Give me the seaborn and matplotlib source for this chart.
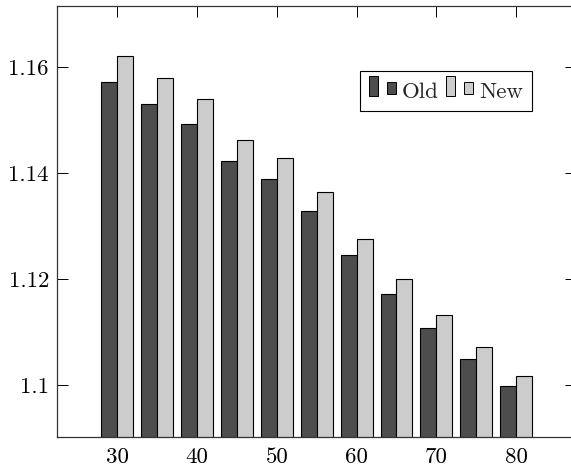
"""Grouped bar chart: Old vs New, drawn with seaborn"""
import matplotlib
matplotlib.use("Agg")
import matplotlib.pyplot as plt
from matplotlib.patches import Rectangle
import seaborn as sns
import pandas as pd

# data
x_values = [30, 35, 40, 45, 50, 55, 60, 65, 70, 75, 80]
old_values = [1.1571, 1.1531, 1.1493, 1.1422, 1.1389, 1.1328,
              1.1245, 1.1172, 1.1107, 1.1049, 1.0997]
new_values = [1.1621, 1.1579, 1.1539, 1.1463, 1.1428, 1.1364,
              1.1276, 1.1200, 1.1131, 1.1071, 1.1017]
series_names = ["Old", "New"]
x_tick_labels = ["30", "40", "50", "60", "70", "80"]
y_ticks = [1.1, 1.12, 1.14, 1.16]
y_tick_labels = ["1.1", "1.12", "1.14", "1.16"]

colors = ["#4d4d4d", "#cccccc"]

df = pd.DataFrame({
    "x": x_values * 2,
    "value": old_values + new_values,
    "series": [series_names[0]] * len(x_values) + [series_names[1]] * len(x_values),
})


class TwoBarHandler:
    """Legend handle with a tall and a short bar, like pgfplots ybar legend."""

    def legend_artist(self, legend, orig_handle, fontsize, handlebox):
        x0, y0 = handlebox.xdescent, handlebox.ydescent
        w, h = handlebox.width, handlebox.height
        bw = w * 0.32
        fc = orig_handle.get_facecolor()
        r1 = Rectangle((x0, y0), bw, h, facecolor=fc, edgecolor="black",
                       linewidth=0.7, transform=handlebox.get_transform())
        r2 = Rectangle((x0 + w * 0.66, y0 + h * 0.08), bw, h * 0.62, facecolor=fc,
                       edgecolor="black", linewidth=0.7,
                       transform=handlebox.get_transform())
        handlebox.add_artist(r1)
        handlebox.add_artist(r2)
        return r1


sns.set_style("ticks")
plt.rcParams["font.family"] = ["cmr10", "DejaVu Sans"]
plt.rcParams["axes.formatter.use_mathtext"] = True

fig = plt.figure(figsize=(5.71, 4.72), dpi=100)
ax = fig.add_axes([0.1004, 0.0748, 0.9084, 0.9131])

sns.barplot(data=df, x="x", y="value", hue="series", palette=colors,
            edgecolor="black", linewidth=0.8, width=0.8, saturation=1,
            ax=ax, legend=False)

# categorical positions: 30 -> 0, 35 -> 1, ...
ax.set_xticks(range(0, len(x_values), 2))
ax.set_xticklabels(x_tick_labels)
ax.set_xlim(-1.5, len(x_values) + 0.5)
ax.set_yticks(y_ticks)
ax.set_yticklabels(y_tick_labels)
ax.set_ylim(1.0902, 1.1716)
ax.set_xlabel("")
ax.set_ylabel("")
ax.set_axisbelow(True)

ax.tick_params(direction="in", length=8, width=0.7, top=True, right=True,
               labelsize=16.5, colors="black")
ax.tick_params(axis="x", pad=8)
ax.tick_params(axis="y", pad=6)
for side in ax.spines.values():
    side.set_visible(True)
    side.set_linewidth(0.9)
    side.set_color("#333333")

h_old = Rectangle((0, 0), 1, 1, facecolor=colors[0])
h_new = Rectangle((0, 0), 1, 1, facecolor=colors[1])
leg = ax.legend([h_old, h_new], series_names, handler_map={Rectangle: TwoBarHandler()},
                loc="center", bbox_to_anchor=(0.749, 0.802), ncol=2, fontsize=16.5,
                frameon=True, fancybox=False, edgecolor="black", framealpha=1,
                handlelength=1.2, handleheight=0.95, handletextpad=0.25,
                columnspacing=0.3, borderpad=0.4)
leg.get_frame().set_linewidth(0.8)

fig.savefig("out.png", dpi=100)
